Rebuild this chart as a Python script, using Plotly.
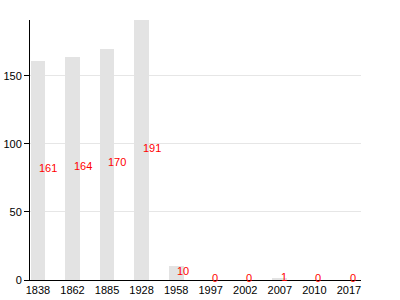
import plotly.graph_objects as go

years = ["1838", "1862", "1885", "1928", "1958", "1997", "2002", "2007", "2010", "2017"]
values = [161, 164, 170, 191, 10, 0, 0, 1, 0, 0]
y_ticks = [0, 50, 100, 150]

fig = go.Figure()
fig.add_trace(go.Bar(
    x=years, y=values, width=0.43,
    marker=dict(color="#e3e3e3", line=dict(width=0)),
    hoverinfo="skip",
))

for i, v in enumerate(values):
    fig.add_annotation(
        x=i, y=v / 2, text=str(v), showarrow=False,
        xanchor="left", yanchor="middle", xshift=-1, yshift=2,
        font=dict(family="Liberation Sans, Arial", size=11, color="#ff0000"),
    )

fig.update_layout(
    width=400, height=300,
    margin=dict(l=30, r=39, t=20, b=20),
    paper_bgcolor="white", plot_bgcolor="white",
    showlegend=False,
    bargap=0,
    font=dict(family="Liberation Sans, Arial", size=11, color="black"),
)
fig.update_xaxes(
    type="category", range=[-0.23, 9.35], automargin=False,
    showline=True, linecolor="black", linewidth=1,
    showgrid=False, ticks="", ticklen=0,
    tickfont=dict(size=11, color="black"),
)
fig.update_yaxes(
    range=[0, 191], tickvals=y_ticks, automargin=False,
    showline=True, linecolor="black", linewidth=1,
    ticks="outside", ticklen=5, tickcolor="black",
    showgrid=True, gridcolor="#e6e6e6", gridwidth=1,
    zeroline=False,
    tickfont=dict(size=11, color="black"),
)

fig.write_html("out.html")
